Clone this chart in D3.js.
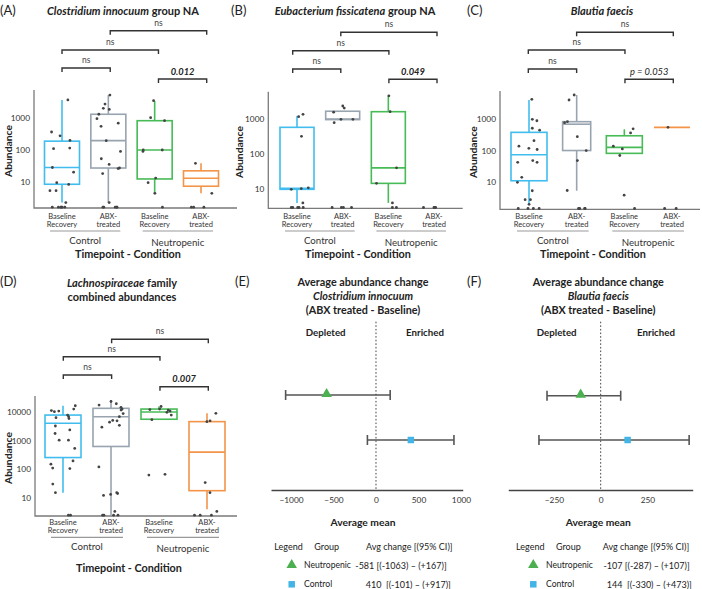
<!DOCTYPE html>
<html><head><meta charset="utf-8">
<script src="https://cdn.jsdelivr.net/npm/d3@7"></script>
<style>body{margin:0;background:#fff} svg{display:block}</style>
</head><body><svg id="c" width="702" height="589"></svg>
<script>
// ---------------- DATA ----------------
const categoryLines = [["Baseline","Recovery"],["ABX-","treated"],["Baseline","Recovery"],["ABX-","treated"]];
const conditions = ["Control","Neutropenic"];
const comparisons = [[1,3],[0,2],[0,1],[2,3]];

// box stats per category: [lowerWhisker, q1, median, q3, upperWhisker]
const titleA = [["Clostridium innocuum", true],[" group NA", false]];
const statsA = [[2.2,8.3,28,190,3800],[2.2,27,197,1340,5400],[4.3,12.2,100,840,3500],[4.3,7.2,12.8,22,38]];
const pointsA = [
  [3800,370,280,200,110,115,28,20,9.3,8.2,5.2,5.2,2.2,0,0,0,0,0,0],
  [5400,2800,2070,1900,1340,970,700,560,197,90,53,35,27,26,18,2.2,0,0,0,0,0],
  [3600,1050,840,100,100,90,13,9.3,4.3,0],
  [38,4.3,0,0,0]];
const pvalsA = ["ns","ns","ns","0.012"];

const titleB = [["Eubacterium fissicatena", true],[" group NA", false]];
const statsB = [[4.1,10,10.7,590,1240],[980,980,1010,1700,1700],[4.1,14.8,41,1650,4700],null];
const pointsB = [
  [1390,1190,327,11,10.5,10,4.1,0,0,0,0,0],
  [2400,2100,1600,1000,1000,800,0,0,0,0],
  [4700,1650,41,14.8,4.1,0,0],
  [0,0,0,0]];
const pvalsB = ["ns","ns","ns","0.049"];

const titleC = [["Blautia faecis", true]];
const statsC = [[2.15,11.2,75,385,4100],[5.4,102,700,840,5900],[83,83,128,300,480],[555,555,555,555,555]];
const pointsC = [
  [4300,900,1000,520,450,210,140,120,110,49,43,43,14.4,10,5.4,2.8,2.8,2,0,0,0,0],
  [5900,4100,840,780,280,102,49,5.5,0,0,0,0],
  [500,370,140,115,71,3.9,0],
  [555,0,0]];
const pvalsC = ["ns","ns","ns","p = 0.053"];

const titleD1 = [["Lachnospiraceae", true],[" family", false]];
const titleD2 = [["combined abundances", false]];
const statsD = [[15,257,4100,8000,17000],[0,630,7000,13800,27000],[5700,5700,10200,13000,16000],[3.9,17.6,400,4700,9200]];
const pointsD = [
  [17000,13000,10500,11000,11500,8000,7000,6000,6500,3300,2400,1800,1050,1050,540,196,150,110,105,30,15,0,0],
  [20000,24000,18000,15000,12000,13000,9000,7000,5000,4500,5200,3500,3000,120,15,13,14,12,3.3,0,0,0,0],
  [12000,13000,12500,10000,11000,16000,5500,8000,62,66],
  [9200,4700,5000,34,15,3.3,0,0,0]];
const pvalsD = ["ns","ns","ns","0.007"];

const yTicksABC = [10,100,1000];
const yTicksD = [10,100,1000,10000];

// forest plots
const forestGroups = ["Neutropenic","Control"];
const meanE = [-581, 410], lowE = [-1063, -101], highE = [167, 917];
const meanF = [-107, 144], lowF = [-287, -330], highF = [107, 473];
const ticksE = [-1000,-500,0,500,1000];
const ticksF = [-250,0,250];
const speciesE = "Clostridium innocuum";
const speciesF = "Blautia faecis";

// ---------------- STYLE / LAYOUT ----------------
const FONT = "Lato, 'Open Sans', sans-serif";
const boxColors = ["#40bdee","#98a4af","#46bb56","#f39449"];
const markerColors = ["#4caf50","#42b4e6"];
const svg = d3.select("#c");

function jit(i, j) {
  const s = Math.sin((i + 1) * 12.9898 + (j + 1) * 78.233) * 43758.5453;
  return (s - Math.floor(s)) - 0.5;
}

function richText(sel, parts) {
  parts.forEach(([t, it]) => sel.append("tspan").text(t).attr("font-style", it ? "italic" : "normal"));
}

function txt(x, y, s, size, opts = {}) {
  const t = svg.append("text").attr("x", x).attr("y", y).attr("font-family", FONT)
    .attr("font-size", size).attr("dominant-baseline", "central")
    .attr("text-anchor", opts.anchor || "middle").attr("fill", opts.fill || "#222")
    .attr("font-weight", opts.bold ? "bold" : "normal").attr("font-style", opts.italic ? "italic" : "normal");
  if (opts.rotate) t.attr("transform", `rotate(-90,${x},${y})`);
  if (s !== null) t.text(s);
  return t;
}

function boxPanel(cfg, stats, points, pvals) {
  const n = categoryLines.length;
  const y = d3.scaleLog().domain(cfg.yDomain).range([cfg.yBot, cfg.yTop]).clamp(true);
  const x = d3.scalePoint().domain(d3.range(n)).range(cfg.xCenters);
  const bx = d3.scalePoint().domain(d3.range(n)).range(cfg.brX);
  const yv = v => v <= 0 ? cfg.yBot - 0.8 : y(v);
  const g = svg.append("g");

  const ax = d3.axisLeft(y).tickValues(cfg.ticks).tickFormat(d3.format("d")).tickSize(0).tickPadding(4);
  const ga = g.append("g").attr("transform", `translate(${cfg.x0},0)`).call(ax);
  ga.select(".domain").remove();
  ga.selectAll("text").attr("font-size", 8.3).attr("fill", "#333").attr("font-family", FONT);
  g.append("path").attr("d", `M${cfg.x0},${cfg.yTop}V${cfg.yBot}H${cfg.x1}`)
    .attr("fill", "none").attr("stroke", "#7a7a7a").attr("stroke-width", 1.3);

  stats.forEach((s, i) => {
    if (!s) return;
    const c = boxColors[i], cx = x(i), w = cfg.boxW * (cfg.wScale ? cfg.wScale[i] : 1);
    const [lo, q1, md, q3, hi] = s;
    g.append("line").attr("x1", cx).attr("x2", cx).attr("y1", yv(hi)).attr("y2", yv(q3)).attr("stroke", c).attr("stroke-width", 1.6);
    g.append("line").attr("x1", cx).attr("x2", cx).attr("y1", yv(q1)).attr("y2", yv(lo)).attr("stroke", c).attr("stroke-width", 1.6);
    g.append("rect").attr("x", cx - w / 2).attr("width", w).attr("y", yv(q3)).attr("height", Math.max(0, yv(q1) - yv(q3)))
      .attr("fill", "none").attr("stroke", c).attr("stroke-width", 1.6);
    g.append("line").attr("x1", cx - w / 2).attr("x2", cx + w / 2).attr("y1", yv(md)).attr("y2", yv(md)).attr("stroke", c).attr("stroke-width", 1.6);
  });

  points.forEach((arr, i) => {
    arr.forEach((v, j) => {
      g.append("circle").attr("cx", x(i) + jit(i + cfg.seed, j) * cfg.boxW * 0.7).attr("cy", yv(v))
        .attr("r", 1.4).attr("fill", "#444");
    });
  });

  comparisons.forEach(([a, b], k) => {
    const yy = cfg.brY[k], xa = bx(a), xb = bx(b);
    g.append("path").attr("d", `M${xa},${yy + 4}V${yy}H${xb}V${yy + 4}`).attr("fill", "none")
      .attr("stroke", "#333").attr("stroke-width", 1.4);
    const p = pvals[k];
    const isNs = p === "ns", isP = p.startsWith("p");
    txt((xa + xb) / 2, yy - 8, p, isNs ? 8.5 : 9.3, { bold: !isNs && !isP, italic: !isNs, fill: isNs ? "#444" : "#222" });
  });

  categoryLines.forEach((lines, i) => {
    lines.forEach((l, k) => txt(x(i), cfg.labY + k * 8.5, l, 7.5, { fill: "#333" }));
  });
  conditions.forEach((c, k) => {
    const a = x(2 * k) - 12, b = x(2 * k + 1) + 12;
    g.append("line").attr("x1", a).attr("x2", b).attr("y1", cfg.labY + 15).attr("y2", cfg.labY + 15)
      .attr("stroke", "#999").attr("stroke-width", 1.2);
    txt((a + b) / 2, cfg.labY + 24 + k * 2, c, 9.7, { fill: "#333" });
  });
  txt(cfg.xTitle, cfg.labY + 37.5 + (cfg.extraTitle || 0), "Timepoint - Condition", 10.8, { bold: true });
  txt(cfg.yLabX, (cfg.yTop + cfg.yBot) / 2 + 2, "Abundance", 10.3, { bold: true, rotate: true });
}

txt(0, 10, "(A)", 13, { anchor: "start" });
richText(txt(123, 10, null, 11, { bold: true }), titleA);
txt(231, 10, "(B)", 13, { anchor: "start" });
richText(txt(355, 10, null, 11, { bold: true }), titleB);
txt(467, 10, "(C)", 13, { anchor: "start" });
richText(txt(602, 10, null, 11, { bold: true }), titleC);
txt(0, 281, "(D)", 13, { anchor: "start" });
richText(txt(122, 282, null, 11, { bold: true }), titleD1);
richText(txt(122, 296, null, 11, { bold: true }), titleD2);

boxPanel({ x0: 34, x1: 237, yTop: 90, yBot: 208, yDomain: [1.48, 7810], xCenters: [62, 201], boxW: 35,
  brX: [62, 206.7], brY: [30.7, 50, 68, 79], ticks: yTicksABC, labY: 216, xTitle: 128, yLabX: 8, seed: 0 },
  statsA, pointsA, pvalsA);
boxPanel({ x0: 268.3, x1: 462.7, yTop: 91.7, yBot: 208.3, yDomain: [2.87, 6150], xCenters: [297, 434], boxW: 34,
  brX: [292.7, 437], brY: [32.3, 50.7, 69, 79.3], ticks: yTicksABC, labY: 216, xTitle: 358, yLabX: 239, seed: 5 },
  statsB, pointsB, pvalsB);
boxPanel({ x0: 500, x1: 700, yTop: 91, yBot: 209.3, yDomain: [1.39, 7910], xCenters: [529, 672], boxW: 36, wScale: [1, 0.78, 1, 1],
  brX: [528.3, 673.3], brY: [32.3, 50, 69, 79.3], ticks: yTicksABC, labY: 216, xTitle: 593, yLabX: 473, seed: 11 },
  statsC, pointsC, pvalsC);
boxPanel({ x0: 35, x1: 237, yTop: 396, yBot: 516, yDomain: [2.27, 37400], xCenters: [63, 207], boxW: 36,
  brX: [63.3, 208.3], brY: [339.3, 356.7, 375, 386.7], ticks: yTicksD, labY: 522.3, xTitle: 129, yLabX: 8, seed: 17, extraTitle: 7.5 },
  statsD, pointsD, pvalsD);

function fmtSigned(v) { return v < 0 ? `(${v})` : `(+${v})`; }

function forestPanel(cfg, species, means, lows, highs, ticks) {
  const x = d3.scaleLinear().domain(cfg.domain).range(cfg.range);
  const yb = d3.scalePoint().domain(forestGroups).range(cfg.rows);
  const g = svg.append("g");
  txt(cfg.lx, 281, cfg.letter, 13, { anchor: "start" });
  txt(cfg.cx, 281, "Average abundance change", 10.8, { bold: true });
  txt(cfg.cx, 295, species, 10.8, { bold: true, italic: true });
  txt(cfg.cx, 309, "(ABX treated - Baseline)", 10.8, { bold: true });
  txt(cfg.depX, 331.7, "Depleted", 9.7, { bold: true });
  txt(cfg.enrX, 331.7, "Enriched", 9.7, { bold: true });

  const ax = d3.axisBottom(x).tickValues(ticks).tickSize(0).tickSizeOuter(0).tickPadding(7).tickFormat(d3.format("d"));
  const ga = g.append("g").attr("transform", `translate(0,${cfg.axisY})`).call(ax);
  ga.select(".domain").attr("stroke", "#444").attr("stroke-width", 1.5);
  ga.selectAll("text").attr("font-size", 8.3).attr("fill", "#333").attr("font-family", FONT);

  g.append("line").attr("x1", x(0)).attr("x2", x(0)).attr("y1", cfg.dotTop).attr("y2", cfg.axisY)
    .attr("stroke", "#444").attr("stroke-width", 1).attr("stroke-dasharray", "1.6,2");

  forestGroups.forEach((grp, i) => {
    const yy = yb(grp);
    g.append("line").attr("x1", x(lows[i])).attr("x2", x(highs[i])).attr("y1", yy).attr("y2", yy).attr("stroke", "#555").attr("stroke-width", 1.6);
    [lows[i], highs[i]].forEach(v => g.append("line").attr("x1", x(v)).attr("x2", x(v)).attr("y1", yy - 5).attr("y2", yy + 5).attr("stroke", "#555").attr("stroke-width", 1.6));
    g.append("path").attr("d", d3.symbol(i === 0 ? d3.symbolTriangle : d3.symbolSquare).size(i === 0 ? 48 : 42)())
      .attr("transform", `translate(${x(means[i])},${yy - (i === 0 ? 1 : 0)})`).attr("fill", markerColors[i]);
  });

  txt(cfg.cx, 521.7, "Average mean", 10.3, { bold: true });
  txt(cfg.legX, 546, "Legend", 9, { anchor: "start" });
  txt(cfg.grpX, 546, "Group", 9, { anchor: "start" });
  txt(cfg.valX[0], 546, "Avg change [(95% CI)]", 9, { anchor: "start" });
  forestGroups.forEach((grp, i) => {
    const yy = 565 + i * 19.3;
    g.append("path").attr("d", d3.symbol(i === 0 ? d3.symbolTriangle : d3.symbolSquare).size(i === 0 ? 48 : 42)())
      .attr("transform", `translate(${cfg.mkX},${yy})`).attr("fill", markerColors[i]);
    txt(cfg.nameX, yy, grp, 8.6, { anchor: "start" });
    txt(cfg.valX[i + 1], yy, `${means[i]}${i === 0 ? " " : "\u00a0\u00a0"}[${fmtSigned(lows[i])} \u2013 ${fmtSigned(highs[i])}]`, 9, { anchor: "start" });
  });
}

forestPanel({ letter: "(E)", lx: 235, cx: 363, domain: [-1235, 1020], range: [271, 462.7], rows: [395, 440],
  axisY: 490, dotTop: 321.7, depX: 325.7, enrX: 425, legX: 274.3, grpX: 314.3, mkX: 291.7, nameX: 304,
  valX: [366, 355.3, 365.7] }, speciesE, meanE, lowE, highE, ticksE);
forestPanel({ letter: "(F)", lx: 467, cx: 598.3, domain: [-494, 492], range: [508.3, 692.7], rows: [395.7, 440],
  axisY: 490, dotTop: 321.7, depX: 556.7, enrX: 656, legX: 516, grpX: 556, mkX: 533.3, nameX: 546,
  valX: [602.7, 603.5, 606.7] }, speciesF, meanF, lowF, highF, ticksF);
</script></body></html>
